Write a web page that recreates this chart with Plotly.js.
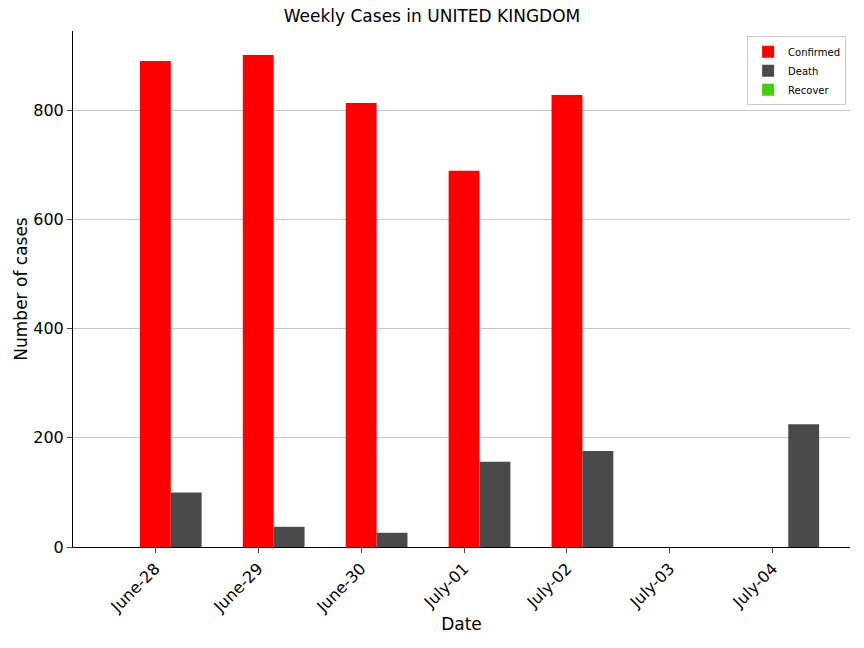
<!DOCTYPE html>
<html>
<head>
<meta charset="utf-8">
<script src="https://cdn.plot.ly/plotly-3.0.1.min.js"></script>
<style>body{margin:0}#chart{width:864px;height:648px}</style>
</head>
<body>
<div id="chart"></div>
<script>
// Weekly case counts
const dates = ['June-28', 'June-29', 'June-30', 'July-01', 'July-02', 'July-03', 'July-04'];
const confirmed = [890, 901, 813, 689, 828, 0, 0];
const deaths = [100, 37, 26, 156, 176, 0, 225];
const recovered = [0, 0, 0, 0, 0, 0, 0];

const idx = dates.map((_, i) => i);
const barWidth = 0.3;

const traces = [
  { name: 'Confirmed', y: confirmed, color: '#ff0000', offset: 0 },
  { name: 'Death', y: deaths, color: '#4a4a4a', offset: 0.3 },
  { name: 'Recover', y: recovered, color: '#3fd00a', offset: 0.6 }
].map((s) => ({
  type: 'bar',
  name: s.name,
  x: idx.map((i) => i + s.offset),
  y: s.y,
  width: barWidth,
  marker: { color: s.color }
}));

Plotly.newPlot('chart', traces, {
  width: 864,
  height: 648,
  margin: { l: 73, r: 14, t: 31, b: 101 },
  paper_bgcolor: '#fff',
  plot_bgcolor: '#fff',
  font: { family: 'DejaVu Sans', color: '#000', size: 16 },
  title: { text: 'Weekly Cases in UNITED KINGDOM', x: 0.5, y: 0.985, yanchor: 'top', font: { size: 17 } },
  barmode: 'overlay',
  showlegend: true,
  legend: {
    x: 0.995, y: 0.99, xanchor: 'right', yanchor: 'top',
    font: { size: 10 }, bordercolor: '#ccc', borderwidth: 1, bgcolor: '#fff'
  },
  xaxis: {
    range: [-0.8, 6.75],
    tickvals: idx, ticktext: dates, tickangle: -45,
    showline: true, linecolor: '#000', ticks: 'outside', ticklen: 5,
    showgrid: false, zeroline: false,
    title: { text: 'Date', font: { size: 17 } }
  },
  yaxis: {
    range: [0, 945],
    tickvals: [0, 200, 400, 600, 800],
    showline: true, linecolor: '#000', ticks: 'outside', ticklen: 5,
    gridcolor: '#c8c8c8', zeroline: false,
    title: { text: 'Number of cases', font: { size: 17 } }
  }
}, { displayModeBar: false });
</script>
</body>
</html>
